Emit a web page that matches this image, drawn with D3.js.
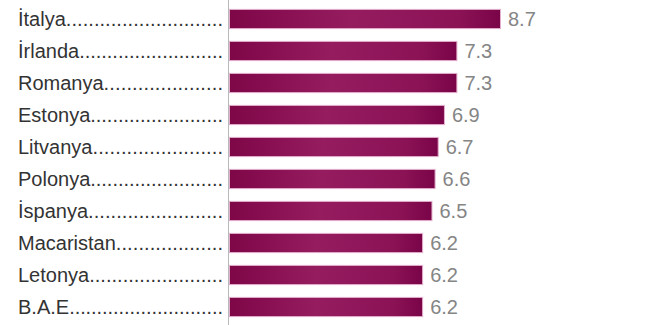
<!DOCTYPE html>
<html><head><meta charset="utf-8">
<script src="https://cdn.jsdelivr.net/npm/d3@7/dist/d3.min.js"></script>
<style>body{margin:0;background:#fff;} svg{display:block;}</style>
</head><body>
<svg id="c" width="651" height="325"></svg>
<script>
const countries = ["İtalya","İrlanda","Romanya","Estonya","Litvanya","Polonya","İspanya","Macaristan","Letonya","B.A.E"];
const values = [8.7,7.3,7.3,6.9,6.7,6.6,6.5,6.2,6.2,6.2];
const valueLabels = ["8.7","7.3","7.3","6.9","6.7","6.6","6.5","6.2","6.2","6.2"];

const svg = d3.select("#c");
const W = 651, H = 325;
const x = d3.scaleLinear().domain([0, 8.7]).range([229, 500]);
const y = d3.scaleBand().domain(countries).range([3, 323]).paddingInner(0.4).paddingOuter(0.2);

const defs = svg.append("defs");
const g = defs.append("linearGradient").attr("id","bg").attr("x1","0").attr("x2","1").attr("y1","0").attr("y2","0");
g.append("stop").attr("offset","0%").attr("stop-color","#7e0748");
g.append("stop").attr("offset","45%").attr("stop-color","#961c60");
g.append("stop").attr("offset","85%").attr("stop-color","#8a1255");
g.append("stop").attr("offset","100%").attr("stop-color","#7a0448");

svg.append("line").attr("x1",228.5).attr("x2",228.5).attr("y1",0).attr("y2",H)
  .attr("stroke","#b8b8b8").attr("stroke-width",1);

svg.selectAll("rect.bar").data(values).enter().append("rect")
  .attr("class","bar")
  .attr("x", x(0)+0.5)
  .attr("y", (d,i)=>y(countries[i]))
  .attr("width", d=>x(d)-x(0))
  .attr("height", y.bandwidth())
  .attr("fill","url(#bg)")
  .attr("stroke","#e3b0cc").attr("stroke-width",1);

const font = "'Liberation Sans', Arial, Helvetica, sans-serif";
const labelStart = 18, labelEnd = 223;
const lab = svg.selectAll("text.lab").data(countries).enter().append("text")
  .attr("class","lab")
  .attr("x",labelStart)
  .attr("y", d=>y(d)+y.bandwidth()/2)
  .attr("dy","0.36em")
  .attr("font-family",font).attr("font-size",20).attr("fill","#333");
lab.each(function(d){
  const t = d3.select(this);
  const nameSpan = t.append("tspan").text(d);
  const base = nameSpan.node().getComputedTextLength();
  const dots = t.append("tspan").text(".");
  const dotW = dots.node().getComputedTextLength();
  const avail = labelEnd - labelStart - base;
  const n = Math.max(1, Math.round(avail / dotW));
  dots.text(".".repeat(n)).attr("textLength", avail).attr("lengthAdjust","spacing");
});

svg.selectAll("text.val").data(values).enter().append("text")
  .attr("class","val")
  .attr("x", d=>x(d)+8)
  .attr("y", (d,i)=>y(countries[i])+y.bandwidth()/2)
  .attr("dy","0.37em")
  .attr("font-family",font).attr("font-size",20).attr("fill","#858585")
  .text((d,i)=>valueLabels[i]);
</script>
</body></html>
